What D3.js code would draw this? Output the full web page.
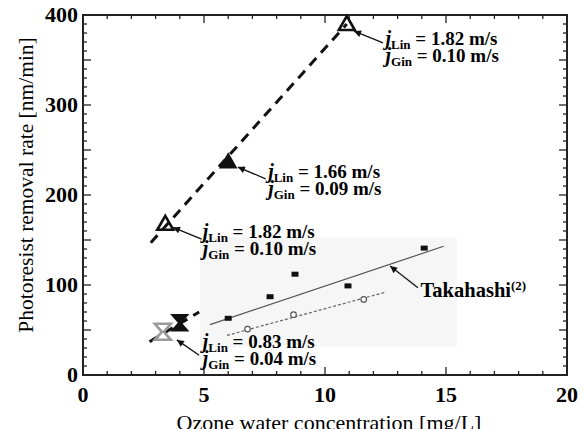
<!DOCTYPE html>
<html>
<head>
<meta charset="utf-8">
<script src="https://cdn.jsdelivr.net/npm/d3@7"></script>
<style>
  body { margin: 0; background: #fff; }
  text { font-family: "Liberation Serif", "Times New Roman", serif; }
</style>
</head>
<body>
<div id="chart"></div>
<script>
// ---- data ----
const xTicks = [0, 5, 10, 15, 20];
const yTicks = [0, 100, 200, 300, 400];

const openTriangles = [[10.9, 390], [3.4, 168]];
const filledTriangles = [[6.0, 237]];
const blackHourglass = [[4.0, 58]];
const grayHourglass = [[3.3, 48]];
const upperFit = [[2.8, 147], [10.9, 390]];
const lowerFit = [[2.75, 37], [4.8, 70]];

const takahashiFilled = [[6.0, 63], [7.73, 87], [8.76, 112], [10.95, 99], [14.1, 141]];
const takahashiFilledFit = [[5.25, 56], [14.9, 143]];
const takahashiOpen = [[6.8, 51], [8.7, 67], [11.6, 84]];
const takahashiOpenFit = [[5.95, 44], [12.5, 92]];

// labels: text anchor point, arrow tail, arrow tip (data units)
const notes = [
  {lin: "1.82", gin: "0.10", at: [12.5, 367], from: [12.4, 369], to: [11.2, 382]},
  {lin: "1.66", gin: "0.09", at: [7.65, 219], from: [7.55, 218], to: [6.4, 231]},
  {lin: "1.82", gin: "0.10", at: [4.95, 152], from: [4.9, 151], to: [3.72, 164]},
  {lin: "0.83", gin: "0.04", at: [4.95, 30], from: [4.8, 22], to: [3.88, 39]}
];
const takahashiNote = {at: [13.95, 87], from: [13.84, 97], to: [12.69, 121]};

// ---- layout ----
const width = 586, height = 429;
const marginLeft = 83, marginRight = 19, marginTop = 15, marginBottom = 54;

const x = d3.scaleLinear().domain([0, 20]).range([marginLeft, width - marginRight]);
const y = d3.scaleLinear().domain([0, 400]).range([height - marginBottom, marginTop]);

const svg = d3.select("#chart").append("svg")
  .attr("width", width).attr("height", height)
  .attr("viewBox", [0, 0, width, height]);

svg.append("defs").append("marker")
  .attr("id", "arr").attr("viewBox", "0 0 10 10")
  .attr("refX", 10).attr("refY", 5)
  .attr("markerWidth", 9).attr("markerHeight", 7)
  .attr("markerUnits", "userSpaceOnUse")
  .attr("orient", "auto")
  .append("path").attr("d", "M0,0L10,5L0,10z").attr("fill", "#111");

// faint pasted-panel background of the Takahashi data
svg.append("rect")
  .attr("x", x(4.83)).attr("y", y(153))
  .attr("width", x(15.45) - x(4.83)).attr("height", y(31) - y(153))
  .attr("fill", "#f6f6f6");

// ---- axes (ticks inward on all four sides) ----
const minorX = d3.range(0, 21, 1);
const minorY = d3.range(0, 401, 10);
const axisColor = "#222";

function tickLenX(v) { return v % 5 === 0 ? 8 : 4; }
function tickLenY(v) { return v % 50 === 0 ? 8 : 4; }

const ax = svg.append("g");
ax.selectAll(".xb").data(minorX).join("line")
  .attr("x1", d => x(d)).attr("x2", d => x(d))
  .attr("y1", y(0)).attr("y2", d => y(0) - tickLenX(d))
  .attr("stroke", axisColor).attr("stroke-width", 1.3);
ax.selectAll(".xt").data(minorX).join("line")
  .attr("x1", d => x(d)).attr("x2", d => x(d))
  .attr("y1", y(400)).attr("y2", d => y(400) + tickLenX(d))
  .attr("stroke", axisColor).attr("stroke-width", 1.3);
ax.selectAll(".yl").data(minorY).join("line")
  .attr("y1", d => y(d)).attr("y2", d => y(d))
  .attr("x1", x(0)).attr("x2", d => x(0) + tickLenY(d))
  .attr("stroke", axisColor).attr("stroke-width", 1.3);
ax.selectAll(".yr").data(minorY).join("line")
  .attr("y1", d => y(d)).attr("y2", d => y(d))
  .attr("x1", x(20)).attr("x2", d => x(20) - tickLenY(d))
  .attr("stroke", axisColor).attr("stroke-width", 1.3);

ax.append("rect")
  .attr("x", x(0)).attr("y", y(400))
  .attr("width", x(20) - x(0)).attr("height", y(0) - y(400))
  .attr("fill", "none").attr("stroke", axisColor).attr("stroke-width", 2);

ax.selectAll(".xl").data(xTicks).join("text")
  .attr("x", d => x(d)).attr("y", y(0) + 27)
  .attr("text-anchor", "middle")
  .attr("font-size", 22).attr("font-weight", "bold")
  .text(d => d);
ax.selectAll(".ylab").data(yTicks).join("text")
  .attr("x", x(0) - 5).attr("y", d => y(d) + 7)
  .attr("text-anchor", "end")
  .attr("font-size", 22).attr("font-weight", "bold")
  .text(d => d);

svg.append("text")
  .attr("x", 329).attr("y", 430)
  .attr("text-anchor", "middle").attr("font-size", 22)
  .text("Ozone water concentration [mg/L]");
svg.append("text")
  .attr("transform", `translate(33,185) rotate(-90)`)
  .attr("text-anchor", "middle").attr("font-size", 21.5)
  .text("Photoresist removal rate [nm/min]");

// ---- lines ----
const line = d3.line().x(d => x(d[0])).y(d => y(d[1]));

svg.append("path").datum(upperFit).attr("d", line)
  .attr("fill", "none").attr("stroke", "#111").attr("stroke-width", 3)
  .attr("stroke-dasharray", "10,7");
svg.append("path").datum(lowerFit).attr("d", line)
  .attr("fill", "none").attr("stroke", "#111").attr("stroke-width", 3)
  .attr("stroke-dasharray", "10,7");
svg.append("path").datum(takahashiFilledFit).attr("d", line)
  .attr("fill", "none").attr("stroke", "#555").attr("stroke-width", 1.2);
svg.append("path").datum(takahashiOpenFit).attr("d", line)
  .attr("fill", "none").attr("stroke", "#666").attr("stroke-width", 1.2)
  .attr("stroke-dasharray", "3,2");

// ---- markers ----
const tri = "M0,-8L8,6L-8,6Z";
const hour = "M-8,-8L8,-8L1,0L8,8L-8,8L-1,0Z";

svg.selectAll(".ot").data(openTriangles).join("path")
  .attr("transform", d => `translate(${x(d[0])},${y(d[1])})`)
  .attr("d", tri).attr("fill", "none").attr("stroke", "#111").attr("stroke-width", 2.6);
svg.selectAll(".ft").data(filledTriangles).join("path")
  .attr("transform", d => `translate(${x(d[0])},${y(d[1])})`)
  .attr("d", tri).attr("fill", "#111").attr("stroke", "#111").attr("stroke-width", 1.5);
svg.selectAll(".gh").data(grayHourglass).join("path")
  .attr("transform", d => `translate(${x(d[0])},${y(d[1])})`)
  .attr("d", hour).attr("fill", "none").attr("stroke", "#9a9a9a").attr("stroke-width", 2.6);
svg.selectAll(".bh").data(blackHourglass).join("path")
  .attr("transform", d => `translate(${x(d[0])},${y(d[1])})`)
  .attr("d", hour).attr("fill", "#111").attr("stroke", "#111").attr("stroke-width", 1.5);

svg.selectAll(".tf").data(takahashiFilled).join("rect")
  .attr("x", d => x(d[0]) - 3.5).attr("y", d => y(d[1]) - 2.5)
  .attr("width", 7).attr("height", 5).attr("fill", "#111");
svg.selectAll(".to").data(takahashiOpen).join("circle")
  .attr("cx", d => x(d[0])).attr("cy", d => y(d[1])).attr("r", 2.8)
  .attr("fill", "#fff").attr("stroke", "#555").attr("stroke-width", 1.2);

// ---- annotations ----
function arrow(n) {
  svg.append("line")
    .attr("x1", x(n.from[0])).attr("y1", y(n.from[1]))
    .attr("x2", x(n.to[0])).attr("y2", y(n.to[1]))
    .attr("stroke", "#111").attr("stroke-width", 1.3)
    .attr("marker-end", "url(#arr)");
}

notes.forEach(n => {
  arrow(n);
  [["Lin", n.lin, 0], ["Gin", n.gin, 17]].forEach(([sub, val, dy]) => {
    const t = svg.append("text")
      .attr("x", x(n.at[0])).attr("y", y(n.at[1]) + dy)
      .attr("font-size", 19).attr("font-weight", "bold");
    t.append("tspan").attr("font-style", "italic").attr("font-size", 20).text("j");
    t.append("tspan").attr("font-size", 13).attr("dy", 4).text(sub);
    t.append("tspan").attr("dy", -4).text(` = ${val} m/s`);
  });
});

arrow(takahashiNote);
const tk = svg.append("text")
  .attr("x", x(takahashiNote.at[0])).attr("y", y(takahashiNote.at[1]))
  .attr("font-size", 20.5).attr("font-weight", "bold");
tk.append("tspan").text("Takahashi");
tk.append("tspan").attr("font-size", 13).attr("dy", -7).text("(2)");
</script>
</body>
</html>
